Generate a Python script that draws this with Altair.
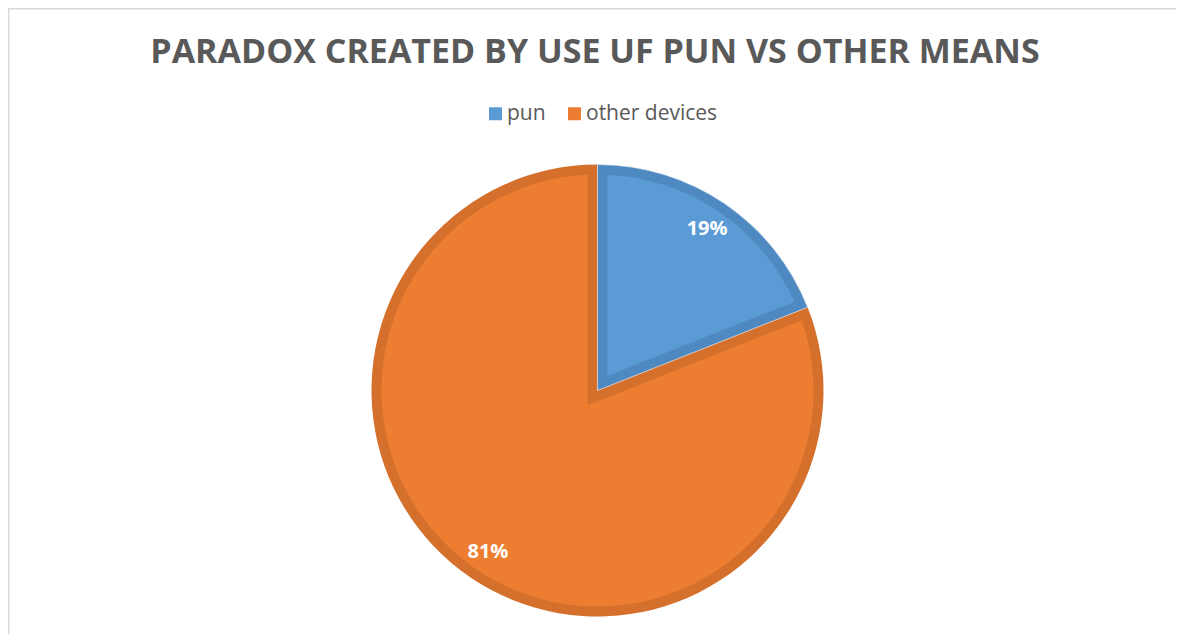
import math
import altair as alt
import pandas as pd

# ---------------- data ----------------
TITLE = "PARADOX CREATED BY USE UF PUN VS OTHER MEANS"
categories = ["pun", "other devices"]
values = [19, 81]
order_idx = [0, 1]

# ---------------- style ----------------
light_colors = ["#5B9BD5", "#ED7D31"]
dark_colors = ["#4F89C2", "#D4702C"]
TEXT_GREY = "#595959"
FRAME_GREY = "#D9D9D9"
FONT = "Open Sans"

W, H = 1168, 626
CX, CY = 589.5, 382.5
R_OUT = 226
BAND = 10
R_IN = R_OUT - BAND
LABEL_R = 195

total = sum(values)
df = pd.DataFrame({"category": categories, "value": values, "order": order_idx})

theta = alt.Theta("value:Q", stack=True, scale=alt.Scale(domain=[0, total]))
order = alt.Order("order:Q")
cx = alt.value(CX)
cy = alt.value(CY)

base = alt.Chart(df)
is_first = alt.datum.category == categories[0]

# geometry of the inset border band of the first slice (derived from its share)
half = math.pi * values[0] / total
apex_d = BAND / math.sin(half)
apex_x = CX - apex_d * math.sin(half)
apex_y = CY + apex_d * math.cos(half)
r_corner = apex_d - 0.3
pad = 2 * math.asin(BAND / math.sqrt(r_corner ** 2 + R_IN ** 2))

# layer a: dark outer slices
dark = base.mark_arc(outerRadius=R_OUT).encode(
    theta=theta,
    color=alt.Color("category:N", scale=alt.Scale(domain=categories, range=dark_colors), legend=None),
    order=order, x=cx, y=cy,
)

# layer b: light slices (carries the legend)
light = base.mark_arc(outerRadius=R_IN).encode(
    theta=theta,
    color=alt.Color(
        "category:N",
        scale=alt.Scale(domain=categories, range=light_colors),
        legend=alt.Legend(
            title=None, orient="none", legendX=477, legendY=95, direction="horizontal",
            symbolType="square", symbolSize=169, symbolStrokeWidth=0,
            labelFont=FONT, labelFontSize=21, labelColor=TEXT_GREY,
            labelOffset=1, columnPadding=18, padding=0,
        ),
    ),
    order=order, x=cx, y=cy,
)

# layer c: band of the second slice along the first slice's edges
band_other = base.transform_filter(is_first).mark_arc(outerRadius=232, fill=dark_colors[1]).encode(
    theta=theta, x=alt.value(apex_x), y=alt.value(apex_y)
)

# layer d: first slice dark
first_dark = base.transform_filter(is_first).mark_arc(
    outerRadius=R_OUT, fill=dark_colors[0], stroke="white", strokeWidth=1, strokeOpacity=0.6
).encode(theta=theta, x=cx, y=cy)

# layer e: first slice light inset
first_light = base.transform_filter(is_first).mark_arc(
    outerRadius=R_IN, innerRadius=r_corner, padAngle=pad, fill=light_colors[0]
).encode(theta=theta, x=cx, y=cy)

labels = base.transform_joinaggregate(total="sum(value)").transform_calculate(
    pct="datum.value / datum.total"
).mark_text(
    radius=LABEL_R, font=FONT, fontSize=20, fontWeight="bold", color="white",
    align="center", baseline="middle",
).encode(theta=theta, text=alt.Text("pct:Q", format=".0%"), order=order, x=cx, y=cy)

title_df = pd.DataFrame({"title": [TITLE]})
title = alt.Chart(title_df).mark_text(
    font=FONT, fontSize=34, fontWeight="bold", color=TEXT_GREY, align="center", baseline="middle"
).encode(text="title:N", x=alt.value(587), y=alt.value(45))

frame_df = pd.DataFrame({"k": [0]})
frame_left = alt.Chart(frame_df).mark_rule(color=FRAME_GREY, strokeWidth=2).encode(
    x=alt.value(0.5), y=alt.value(0), y2=alt.value(H)
)
frame_top = alt.Chart(frame_df).mark_rule(color=FRAME_GREY, strokeWidth=2).encode(
    x=alt.value(0), x2=alt.value(W), y=alt.value(0.5)
)

chart = alt.layer(
    frame_left, frame_top, dark, light, band_other, first_dark, first_light, labels, title
).resolve_scale(color="independent").properties(
    width=W, height=H, autosize=alt.AutoSizeParams(type="none"), padding=0
).configure_view(stroke=None)

chart.save("out.html", embed_options={"renderer": "svg", "actions": False})
